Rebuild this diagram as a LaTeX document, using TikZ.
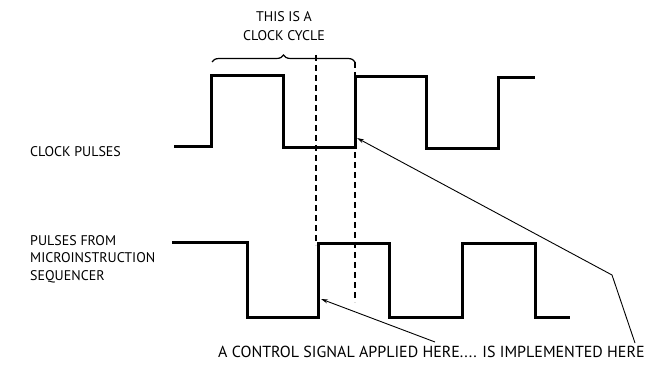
\documentclass[tikz,border=0pt]{standalone}
\usepackage{fontspec}
\setmainfont{PT Sans}
\usetikzlibrary{decorations.pathreplacing,arrows.meta}
\begin{document}
\begin{tikzpicture}[x=1pt,y=-1pt,
  wave/.style={line width=3pt,line join=miter},
  guide/.style={line width=1.4pt,dash pattern=on 6pt off 4pt},
  pointer/.style={line width=0.9pt,-{Stealth[length=7pt,width=4pt]}},
  lbl/.style={font=\fontsize{14}{17.5}\selectfont,inner sep=0pt,align=left},
  ]
\useasboundingbox (0,0) rectangle (656,366);
% clock pulses
\draw[wave] (174,147) -- (211,147) -- (211,76) -- (283,76) -- (283,148) -- (355,148) -- (355,77) -- (426,77) -- (426,149) -- (498,149) -- (498,78) -- (535,78);
% sequencer pulses
\draw[wave] (172,243) -- (247,243) -- (247,317) -- (318,317) -- (318,244) -- (389,244) -- (389,317) -- (462,317) -- (462,244) -- (535,244) -- (535,317) -- (570,317);
% guides
\coordinate (g1t) at (316,55);
\coordinate (g1b) at (316,245);
\coordinate (g2t) at (355,62);
\coordinate (g2b) at (355,302);
\draw[guide] (g1t) -- (g1b);
\draw[guide] (g2t) -- (g2b);
% brace
\coordinate (bl) at (212,62);
\coordinate (br) at (355,62);
\draw[line width=1.2pt,decorate,decoration={brace,amplitude=7pt,aspect=0.5}] (bl) -- (br);
\node[lbl,align=center] (cycle) at (284,26) {THIS IS A\\[1pt]CLOCK CYCLE};
% labels
\node[lbl,anchor=west] (clk) at (30,152) {CLOCK PULSES};
\node[lbl,anchor=west] (seq) at (30,259) {PULSES FROM\\MICROINSTRUCTION\\SEQUENCER};
\node[lbl,anchor=west,font=\fontsize{16}{19}\selectfont] (note) at (218,352) {A CONTROL SIGNAL APPLIED HERE.... IS IMPLEMENTED HERE};
% pointers
\coordinate (t1) at (357,138);
\coordinate (t2) at (321,299);
\coordinate (k1) at (612,275);
\coordinate (e1) at (635,343);
\coordinate (e2) at (435,342);
\draw[pointer] (e1) -- (k1) -- (t1);
\draw[pointer] (e2) -- (t2);
\end{tikzpicture}
\end{document}
